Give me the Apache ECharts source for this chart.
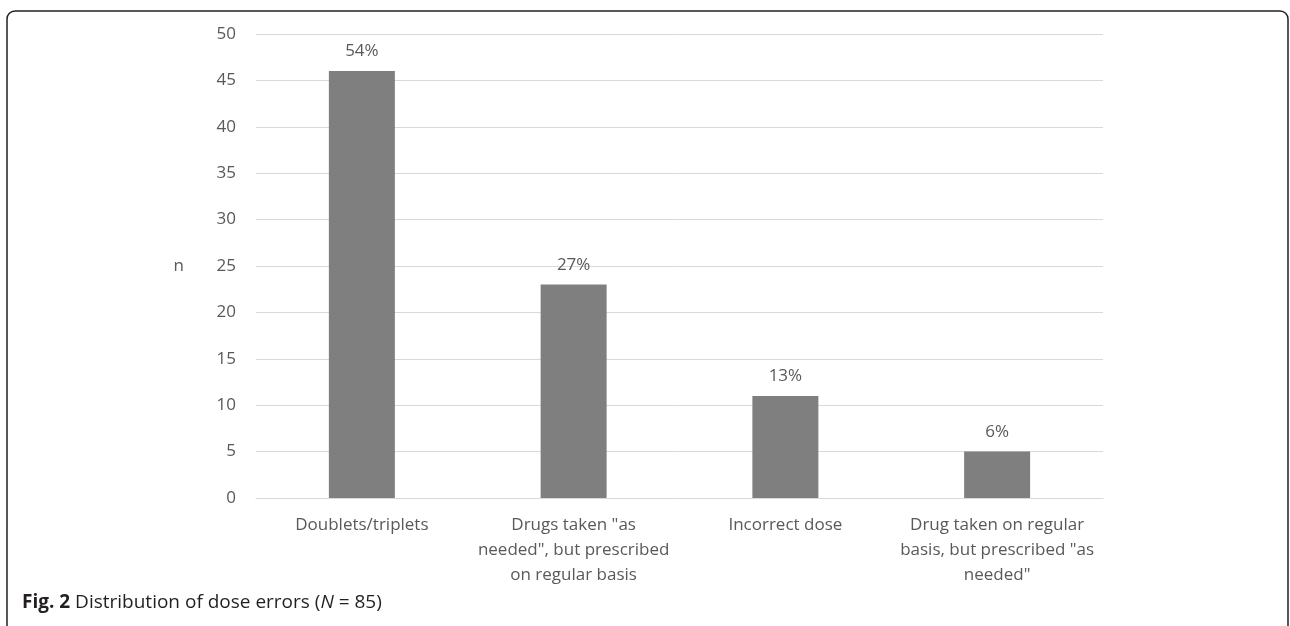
<!DOCTYPE html>
<html>
<head>
<meta charset="utf-8">
<script src="https://cdn.jsdelivr.net/npm/echarts@6/dist/echarts.min.js"></script>
<style>
  html, body { margin: 0; padding: 0; background: #fff; }
  #main { width: 1290px; height: 626px; }
</style>
</head>
<body>
<div id="main"></div>
<script>
// data
const categories = [
  'Doublets/triplets',
  'Drugs taken "as\nneeded", but prescribed\non regular basis',
  'Incorrect dose',
  'Drug taken on regular\nbasis, but prescribed "as\nneeded"'
];
const counts = [46, 23, 11, 5];
const percents = ['54%', '27%', '13%', '6%'];

const chart = echarts.init(document.getElementById('main'));

var option = {
  animation: false,
  textStyle: { fontFamily: 'Open Sans' },
  grid: {
    left: 256,
    right: 187,
    top: 34,
    bottom: 128
  },
  xAxis: {
    type: 'category',
    data: categories,
    axisTick: { show: false },
    axisLine: { lineStyle: { color: '#d9d9d9', width: 1 } },
    axisLabel: {
      color: '#595959',
      fontSize: 17,
      lineHeight: 25,
      margin: 15,
      interval: 0,
      align: 'center'
    }
  },
  yAxis: {
    type: 'value',
    min: 0,
    max: 50,
    interval: 5,
    name: 'n',
    nameLocation: 'middle',
    nameRotate: 0,
    nameGap: 72,
    nameTextStyle: { color: '#595959', fontSize: 17 },
    axisLine: { show: false },
    axisTick: { show: false },
    axisLabel: { color: '#595959', fontSize: 17, margin: 20 },
    splitLine: { lineStyle: { color: '#d9d9d9', width: 1 } }
  },
  series: [
    {
      type: 'bar',
      barWidth: 66,
      data: counts,
      itemStyle: { color: '#7f7f7f' },
      label: {
        show: true,
        position: 'top',
        distance: 11,
        color: '#595959',
        fontSize: 17,
        formatter: function (p) {
          return percents[p.dataIndex];
        }
      }
    }
  ],
  graphic: [
    // frame round the figure
    {
      type: 'rect',
      shape: { x: 7, y: 11, width: 1281, height: 640, r: 8 },
      style: { fill: 'none', stroke: '#231f20', lineWidth: 1.5 },
      silent: true
    },
    {
      type: 'text',
      left: 22,
      top: 593,
      style: {
        text: '{b|Fig. 2} Distribution of dose errors ({i|N} = 85)',
        fill: '#231f20',
        font: '19px "Open Sans"',
        rich: {
          b: { fontWeight: 'bold', fontSize: 19, fill: '#231f20', fontFamily: 'Open Sans' },
          i: { fontStyle: 'italic', fontSize: 19, fill: '#231f20', fontFamily: 'Open Sans' }
        }
      }
    }
  ]
};

chart.setOption(option);
</script>
</body>
</html>
